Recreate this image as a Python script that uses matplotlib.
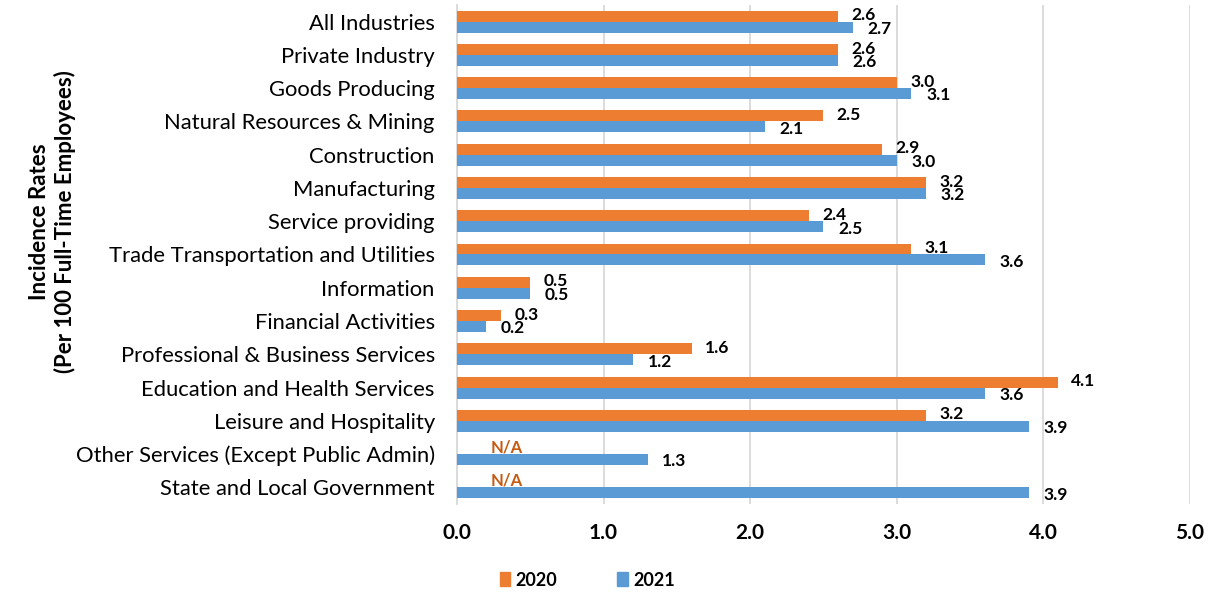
import numpy as np
import matplotlib.pyplot as plt
from matplotlib.patches import Patch

plt.rcParams['font.family'] = ['Lato', 'DejaVu Sans']

categories = ['All Industries', 'Private Industry', 'Goods Producing',
              'Natural Resources & Mining', 'Construction', 'Manufacturing',
              'Service providing', 'Trade Transportation and Utilities',
              'Information', 'Financial Activities',
              'Professional & Business Services', 'Education and Health Services',
              'Leisure and Hospitality', 'Other Services (Except Public Admin)',
              'State and Local Government']
rates_2020 = [2.6, 2.6, 3.0, 2.5, 2.9, 3.2, 2.4, 3.1, 0.5, 0.3, 1.6, 4.1, 3.2, None, None]
rates_2021 = [2.7, 2.6, 3.1, 2.1, 3.0, 3.2, 2.5, 3.6, 0.5, 0.2, 1.2, 3.6, 3.9, 1.3, 3.9]

orange = '#ED7D31'
blue = '#5B9BD5'
h = 0.33

fig = plt.figure(figsize=(12.16, 5.95), dpi=100)
ax = fig.add_axes([0.3758, 0.153, 0.6028, 0.8386])

y = np.arange(len(categories))
v20 = [v if v is not None else 0 for v in rates_2020]
ax.barh(y - h / 2, v20, height=h, color=orange, zorder=3)
ax.barh(y + h / 2, rates_2021, height=h, color=blue, zorder=3)

for i, (a, b) in enumerate(zip(rates_2020, rates_2021)):
    if a is None:
        ax.text(0.23, i - 0.2, 'N/A', color='#C55A11', fontsize=12,
                fontweight='bold', va='center', ha='left')
    else:
        ax.text(a + 0.09, i - 0.19, f'{a:.1f}', fontsize=12.5,
                fontweight='bold', va='center', ha='left')
    ax.text(b + 0.1, i + 0.22, f'{b:.1f}', fontsize=12.5,
            fontweight='bold', va='center', ha='left')

ax.set_xlim(0, 5)
ax.set_ylim(len(categories) - 0.5, -0.5)
ax.set_xticks(np.arange(0, 5.5, 1.0))
ax.set_xticklabels([f'{t:.1f}' for t in np.arange(0, 5.5, 1.0)],
                   fontsize=15, fontweight='bold')
ax.set_yticks(y)
ax.set_yticklabels(categories, fontsize=15.8)
ax.tick_params(axis='y', length=0, pad=16)
ax.tick_params(axis='x', length=0, pad=14)
ax.grid(axis='x', color='#D9D9D9', linewidth=1.3, zorder=0)
for s in ['top', 'right', 'bottom']:
    ax.spines[s].set_visible(False)
ax.spines['left'].set_color('#D9D9D9')
ax.spines['left'].set_linewidth(1.3)

ax.set_ylabel('Incidence Rates\n(Per 100 Full-Time Employees)',
              fontsize=16, fontweight='bold')
ax.yaxis.set_label_coords(-0.52, 0.565)

handles = [Patch(color=orange, label='2020'), Patch(color=blue, label='2021')]
fig.legend(handles=handles, loc='center', bbox_to_anchor=(0.483, 0.025),
           ncol=2, frameon=False, handlelength=0.6, handleheight=0.8,
           handletextpad=0.3, columnspacing=3.3,
           prop={'size': 13, 'weight': 'bold'})

fig.savefig('out.png', dpi=100)
